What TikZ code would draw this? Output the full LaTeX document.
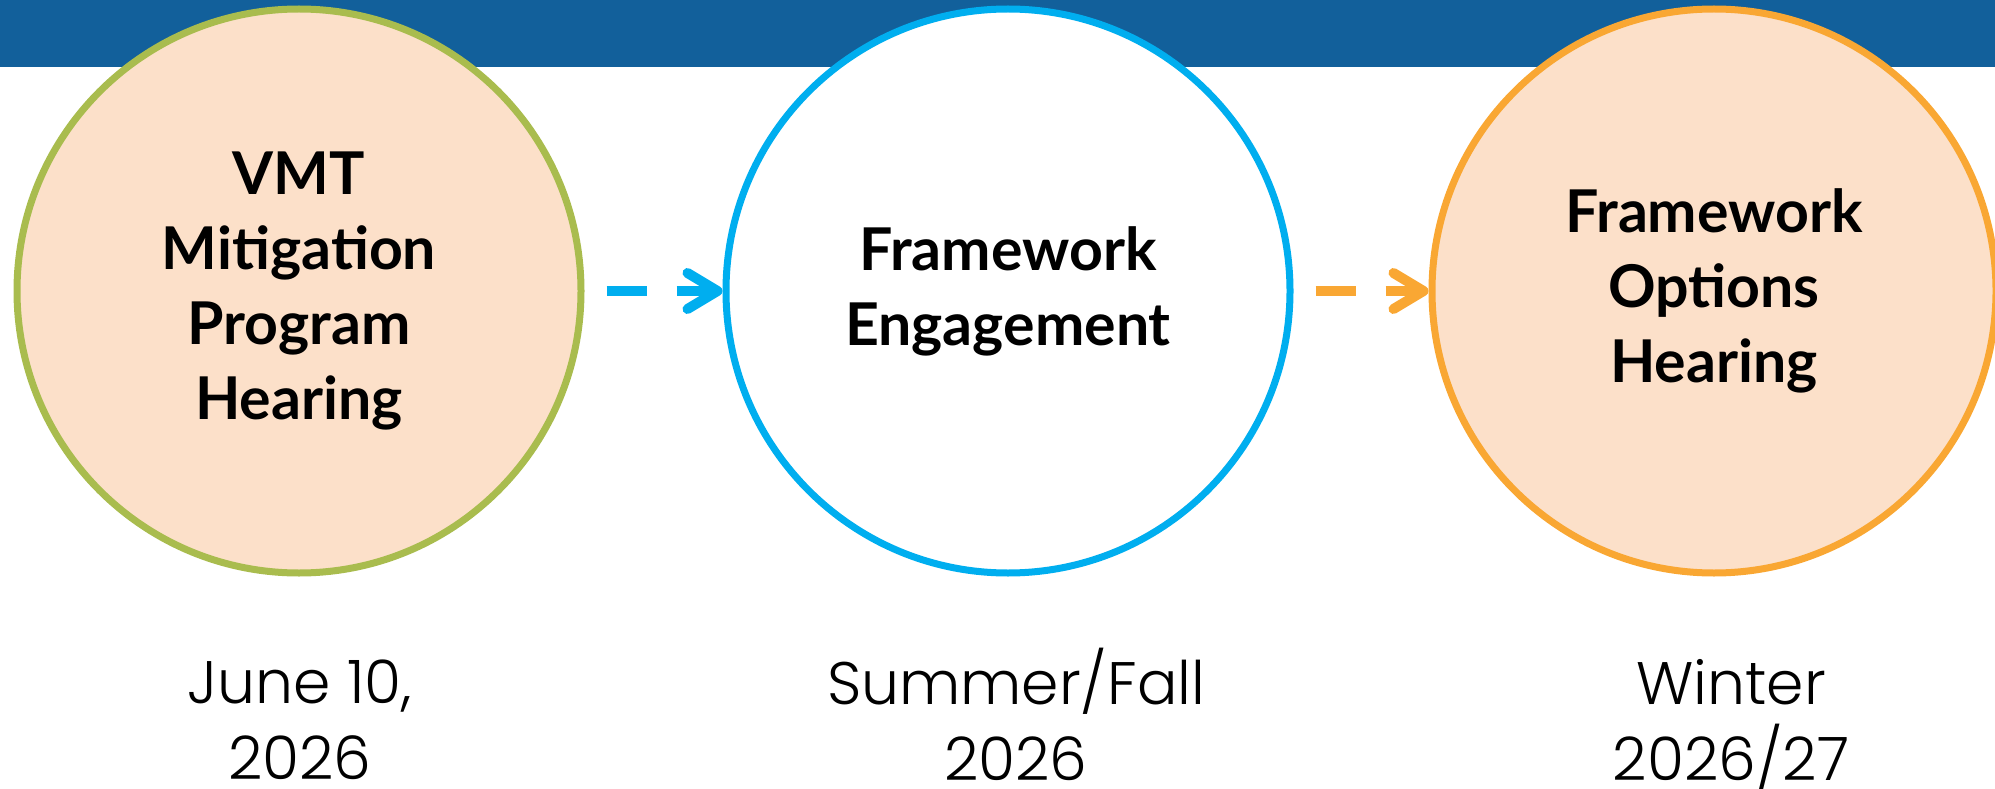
\documentclass[tikz,border=0pt]{standalone}
\usepackage{fontspec}
\usetikzlibrary{arrows.meta}
\newfontfamily\boldfont{Lato}[UprightFont=* Bold]
\newfontfamily\datefont{Poppins}[UprightFont=* Light]
\definecolor{barblue}{RGB}{18,96,155}
\definecolor{leafgreen}{RGB}{169,188,78}
\definecolor{peach}{RGB}{252,224,201}
\definecolor{skyblue}{RGB}{0,174,239}
\definecolor{amber}{RGB}{249,167,51}
\tikzset{
  stage/.style={circle, minimum size=564pt, inner sep=0pt, line width=7pt, draw, align=center,
    font={\boldfont\fontsize{59}{75}\selectfont}},
  datelbl/.style={align=center, inner sep=0pt, font={\datefont\fontsize{60}{76}\selectfont},
    execute at begin node={\rule{0pt}{60pt}}, execute at end node={\rule[-16pt]{0pt}{1pt}}},
  conn/.style={line width=10pt, dash pattern=on 40pt off 30pt,
    -{Straight Barb[length=30pt,width=36pt,round]}, shorten <=22pt}
}
\begin{document}
\begin{tikzpicture}[x=1pt,y=-1pt]
\useasboundingbox (0,0) rectangle (1995,789);
\clip (0,0) rectangle (1995,789);
\fill[barblue] (0,0) rectangle (1995,67);
\node[stage, draw=leafgreen, fill=peach] (c1) at (299,291) {VMT\\Mitigation\\Program\\Hearing};
\node[stage, draw=skyblue, fill=white] (c2) at (1008,291) {Framework\\Engagement};
\node[stage, draw=amber, fill=peach] (c3) at (1714,291) {Framework\\Options\\Hearing};
\draw[conn, skyblue] (c1.east) -- (c2.west);
\draw[conn, amber] (c2.east) -- (c3.west);
\node[datelbl] (d1) at (300,728) {June 10,\\2026};
\node[datelbl] (d2) at (1016,722) {Summer/Fall\\2026};
\node[datelbl] (d3) at (1731,728) {Winter\\2026/27};
\end{tikzpicture}
\end{document}
